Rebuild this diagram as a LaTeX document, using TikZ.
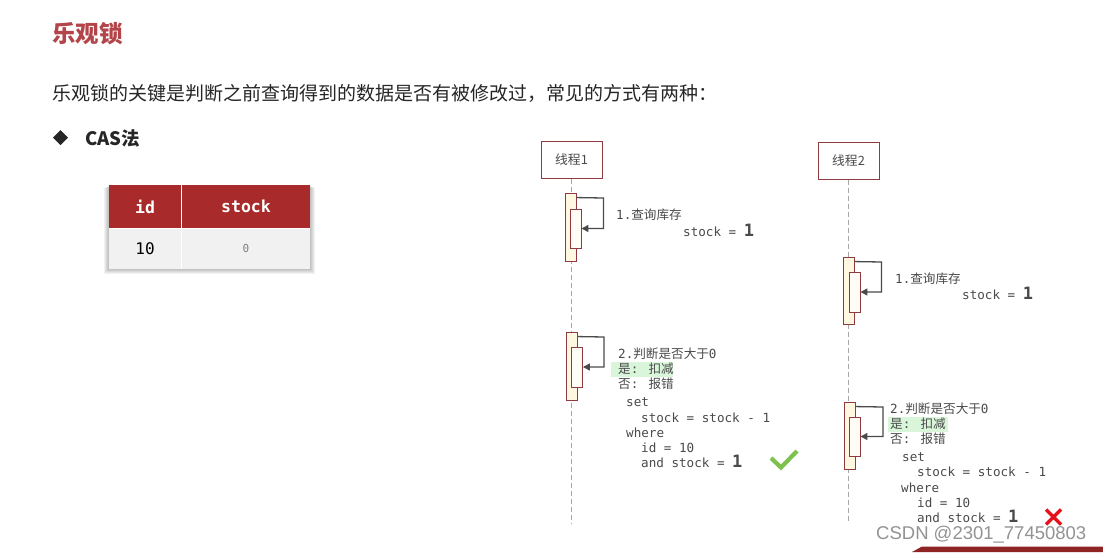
\documentclass[tikz,border=0pt]{standalone}
\usepackage{fontspec}
\setmainfont{Noto Sans CJK SC}
\newfontfamily\cjk{Noto Sans CJK SC}
\newfontfamily\mono{DejaVu Sans Mono}
\newfontfamily\wmfont{Liberation Sans}
\usetikzlibrary{arrows.meta,calc}
\definecolor{titlered}{HTML}{B3454A}
\definecolor{hdrred}{HTML}{A82A2B}
\definecolor{rowgray}{HTML}{F1F1F1}
\definecolor{boxred}{HTML}{8E3A40}
\definecolor{actfill}{HTML}{FFF7DF}
\definecolor{actin}{HTML}{FFFCF6}
\definecolor{txtgray}{HTML}{4A4A4A}
\definecolor{hlgreen}{HTML}{D9F5DA}
\definecolor{okgreen}{HTML}{7DC24D}
\definecolor{badred}{HTML}{E3121B}
\tikzset{
  thread/.style={draw=boxred, line width=1pt, fill=white, minimum width=61pt, minimum height=37pt, inner sep=0, text=txtgray, font=\fontsize{12.8}{14}\selectfont},
  life/.style={draw=gray!70, dashed, dash pattern=on 5pt off 3pt, line width=0.7pt},
  actout/.style={draw=boxred, line width=0.9pt, fill=actfill, minimum width=11pt, inner sep=0},
  actinn/.style={draw=boxred, line width=0.9pt, fill=actin, minimum width=11pt, inner sep=0},
  selfarrow/.style={draw=txtgray, line width=1.3pt, -{Triangle[length=7pt,width=7pt]}},
  code/.style={anchor=base west, inner sep=0, text=txtgray, font=\mono\fontsize{12.6}{15}\selectfont},
  hl/.style={fill=hlgreen, inner sep=0},
  hdr/.style={fill=hdrred, inner sep=0, text=white, font=\mono\bfseries\fontsize{16.5}{18}\selectfont},
  cell/.style={fill=rowgray, inner sep=0},
}
\newcommand{\bigone}{{\fontsize{17}{17}\selectfont\bfseries 1}}
\begin{document}
\begin{tikzpicture}[x=1pt,y=-1pt]
\useasboundingbox (0,0) rectangle (1103,552);
\fill[white] (0,0) rectangle (1103,552);

% title and intro
\node[anchor=west, inner sep=0, text=titlered, font=\bfseries\fontsize{23.5}{26}\selectfont] (title) at (52,34) {乐观锁};
\node[anchor=west, inner sep=0, text=black!85, font=\fontsize{19}{22}\selectfont] (intro) at (52,93) {乐观锁的关键是判断之前查询得到的数据是否有被修改过，常见的方式有两种：};
\fill[black!85] (60.5,130) -- (68,137.5) -- (60.5,145) -- (53,137.5) -- cycle;
\node[anchor=west, inner sep=0, text=black!85, font=\bfseries\fontsize{18.5}{22}\selectfont] (cas) at (85,138) {CAS法};

% table with soft shadow
\foreach \d in {5,4,3,2,1}{
  \fill[black, opacity=0.05] (109-\d,185+\d*0.5) rectangle (310+\d,269+\d);
}
\node[hdr, minimum width=72pt, minimum height=43pt] (hid) at (145,206.5) {id};
\node[hdr, minimum width=128pt, minimum height=43pt] (hstock) at (246,206.5) {stock};
\node[cell, minimum width=72pt, minimum height=41pt, font=\mono\fontsize{16}{18}\selectfont] (cid) at (145,248.5) {10};
\node[cell, minimum width=128pt, minimum height=41pt, text=gray, font=\mono\fontsize{11}{12}\selectfont] (cstock) at (246,248.5) {0};
\draw[white, line width=1pt] (181.5,185) -- (181.5,269);
\draw[white, line width=1pt] (109,228) -- (310,228);

% threads
\coordinate (e1) at (571.5,523);
\coordinate (e2) at (848.5,523);
\node[thread] (t1) at (571.5,159.5) {线程1};
\node[thread] (t2) at (848.5,160.5) {线程2};
\draw[life] (t1.south) -- (e1);
\draw[life] (t2.south) -- (e2);

% thread 1, step 1
\node[actout, minimum height=68pt] (a1o) at (570.5,227) {};
\node[actinn, minimum height=39pt] (a1i) at (575.5,228.5) {};
\coordinate (r1) at (603.5,198);
\draw[selfarrow] ($(a1o.north east)+(0,5)$) -- (r1) |- (a1i.east);
\node[code] (s11) at (616,219.5) {1.{\cjk 查询库存}};
\node[code] (s12) at (683,236) {stock = \bigone};

% thread 2, step 1
\node[actout, minimum height=67pt] (b1o) at (848.5,290.5) {};
\node[actinn, minimum height=40pt] (b1i) at (854.5,292) {};
\coordinate (r2) at (881.5,262);
\draw[selfarrow] ($(b1o.north east)+(0,5)$) -- (r2) |- (b1i.east);
\node[code] (s21) at (895,283.5) {1.{\cjk 查询库存}};
\node[code] (s22) at (962,299) {stock = \bigone};

% thread 1, step 2
\node[actout, minimum height=68pt] (a2o) at (571.5,366) {};
\node[actinn, minimum height=40pt] (a2i) at (577,367) {};
\coordinate (r3) at (604,337);
\draw[selfarrow] ($(a2o.north east)+(0,5)$) -- (r3) |- (a2i.east);
\node[hl, minimum width=62pt, minimum height=15pt] (hl1) at (642,369.5) {};
\node[code] (c1a) at (618,358.5) {2.{\cjk 判断是否大于}0};
\node[code] (c1b) at (618,373.5) {{\cjk 是}: {\cjk 扣减}};
\node[code] (c1c) at (618,388.5) {{\cjk 否}: {\cjk 报错}};
\node[code] (c1d) at (626,406.5) {set};
\node[code] (c1e) at (641,422.5) {stock = stock - 1};
\node[code] (c1f) at (626,437.5) {where};
\node[code] (c1g) at (641,452.5) {id = 10};
\node[code] (c1h) at (641,467.5) {and stock = \bigone};
\draw[okgreen, line width=4.2pt] (771,458) -- (781,467.5) -- (797,451);

% thread 2, step 2
\node[actout, minimum height=67pt] (b2o) at (849.5,435.5) {};
\node[actinn, minimum height=39pt] (b2i) at (854.5,436.5) {};
\coordinate (r4) at (883,407);
\draw[selfarrow] ($(b2o.north east)+(0,5)$) -- (r4) |- (b2i.east);
\node[hl, minimum width=60pt, minimum height=15pt] (hl2) at (918,424.5) {};
\node[code] (c2a) at (890,413.5) {2.{\cjk 判断是否大于}0};
\node[code] (c2b) at (890,428.5) {{\cjk 是}: {\cjk 扣减}};
\node[code] (c2c) at (890,443.5) {{\cjk 否}: {\cjk 报错}};
\node[code] (c2d) at (902,461.5) {set};
\node[code] (c2e) at (917,476.5) {stock = stock - 1};
\node[code] (c2f) at (901,492.5) {where};
\node[code] (c2g) at (917,507.5) {id = 10};
\node[code] (c2h) at (917,522.5) {and stock = \bigone};
\draw[badred, line width=3.5pt] (1046,509.5) -- (1061,524.5) (1061,509.5) -- (1046,524.5);

% bottom banner and watermark
\fill[hdrred!85!black] (912,552) -- (922,546.5) -- (1103,546.5) -- (1103,552) -- cycle;
\node[anchor=west, inner sep=0, text=gray!85, font=\wmfont\fontsize{18.5}{20}\selectfont] (wm) at (876,534.5) {CSDN @2301\_77450803};
\end{tikzpicture}
\end{document}
